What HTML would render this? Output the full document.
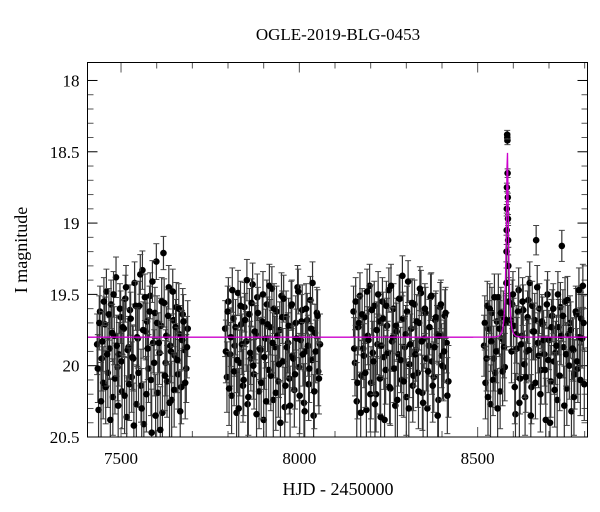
<!DOCTYPE html>
<html><head><meta charset="utf-8"><style>
html,body{margin:0;padding:0;background:#fff;}
svg{display:block;font-family:"Liberation Serif",serif;}
</style></head><body>
<svg id="chart" width="600" height="512" viewBox="0 0 600 512" xmlns="http://www.w3.org/2000/svg">
<text x="338" y="40" font-size="17" text-anchor="middle">OGLE-2019-BLG-0453</text>
<text x="338" y="495" font-size="18" text-anchor="middle">HJD - 2450000</text>
<text transform="translate(27,250) rotate(-90)" font-size="18" text-anchor="middle">I magnitude</text>
<g id="ticks"></g>
<g id="data"></g>
<path id="model" fill="none" stroke="#cc00cc" stroke-width="1.3"/>
<rect x="87.5" y="62.5" width="500" height="374.5" fill="none" stroke="#000" stroke-width="1"/>
</svg>
<script>
const xTicks=[7500,8000,8500];
const yTicks=[18,18.5,19,19.5,20,20.5];
const yTickLabels=["18","18.5","19","19.5","20","20.5"];
const t1=[7433,7437,7441,7446,7450,7455,7459,7463,7468,7472,7477,7481,7486,7490,7494,7499,7503,7508,7512,7516,7521,7525,7530,7534,7538,7543,7547,7551,7556,7560,7564,7569,7573,7577,7582,7586,7590,7595,7599,7603,7608,7612,7616,7621,7625,7629,7634,7638,7642,7647,7651,7655,7660,7664,7669,7673,7678,7683,7687];
const m1=[19.85,20.31,19.62,19.95,20.12,19.71,19.48,20.05,19.88,19.57,20.22,19.79,19.38,20.01,19.92,19.66,20.18,19.74,19.53,20.36,19.87,19.61,20.08,19.95,19.42,20.27,19.81,19.58,20.14,19.33,20.41,19.76,19.69,20.02,19.51,20.47,19.84,19.63,19.27,20.19,19.91,19.72,20.33,19.56,19.98,20.11,19.45,19.86,20.24,19.68,19.93,19.59,20.06,19.78,20.15,19.64,19.89,20.02,19.74];
const t1b=[7435,7439,7444,7448,7452,7457,7461,7466,7470,7475,7479,7483,7488,7492,7497,7501,7505,7510,7514,7519,7523,7527,7532,7536,7541,7545,7549,7554,7558,7562,7567,7571,7575,7580,7584,7588,7593,7597,7601,7606,7610,7614,7619,7623,7627,7632,7636,7640,7645,7649,7653,7658,7662,7666,7671,7675,7680,7685];
const m1b=[20.02,19.7,20.25,19.83,19.55,20.15,19.92,19.64,20.38,19.77,19.5,20.09,19.86,20.28,19.6,19.97,19.73,20.21,19.45,19.89,20.13,19.67,19.94,20.42,19.58,19.8,20.05,19.36,20.3,19.75,19.52,20.2,19.88,19.62,20.1,19.41,19.98,20.35,19.7,19.84,20.45,19.55,19.21,20.07,19.79,19.65,20.26,19.9,19.48,20.17,19.73,19.96,19.6,20.32,19.82,19.69,20.12,19.87];
const t2=[7792,7797,7801,7806,7810,7815,7819,7824,7828,7833,7837,7842,7846,7851,7855,7860,7864,7869,7873,7878,7882,7887,7891,7896,7900,7905,7909,7914,7918,7923,7927,7932,7936,7941,7945,7950,7954,7959,7963,7968,7972,7977,7981,7986,7990,7995,7999,8004,8008,8013,8017,8022,8026,8031,8035,8040,8044,8049,8053,8058];
const m2=[19.74,20.08,19.55,19.92,20.21,19.67,19.86,20.33,19.49,19.98,19.71,20.14,19.59,19.83,20.27,19.64,19.95,19.43,20.06,19.78,19.52,20.18,19.89,19.69,20.38,19.81,19.57,20.03,19.73,19.46,20.24,19.87,19.62,20.11,19.75,19.51,19.97,20.29,19.66,19.84,20.09,19.58,19.93,20.17,19.7,19.45,20.01,19.82,19.61,20.26,19.9,19.68,20.13,19.54,19.96,20.35,19.77,19.63,20.04,19.85];
const t2b=[7794,7799,7803,7808,7812,7817,7821,7826,7830,7835,7839,7844,7848,7853,7857,7862,7866,7871,7875,7880,7884,7889,7893,7898,7902,7907,7911,7916,7920,7925,7929,7934,7938,7943,7947,7952,7956,7961,7965,7970,7974,7979,7983,7988,7992,7997,8001,8006,8010,8015,8019,8024,8028,8033,8037,8042,8046,8051,8055];
const m2b=[19.9,19.62,20.16,19.8,19.47,20.04,19.73,19.96,20.3,19.58,19.85,20.1,19.68,19.4,20.22,19.91,19.56,20.0,19.76,20.34,19.63,19.88,20.12,19.5,19.94,20.25,19.71,19.44,20.07,19.84,19.6,20.19,19.79,19.99,20.4,19.66,19.53,20.14,19.87,19.72,20.28,19.57,19.95,20.06,19.81,19.48,20.21,19.69,19.92,20.32,19.6,19.86,20.02,19.74,19.42,20.18,19.9,19.65,20.09];
const t3=[8152,8156,8161,8165,8170,8174,8179,8183,8188,8192,8197,8201,8206,8210,8215,8219,8224,8228,8233,8237,8242,8246,8251,8255,8260,8264,8269,8273,8278,8282,8287,8291,8296,8300,8305,8309,8314,8318,8323,8327,8332,8336,8341,8345,8350,8354,8359,8363,8368,8372,8377,8381,8386,8390,8395,8399,8404,8408,8413,8418];
const m3=[19.62,19.98,20.25,19.73,19.51,20.07,19.88,19.66,20.31,19.79,19.44,20.12,19.91,19.58,20.2,19.85,19.69,20.36,19.55,19.94,20.03,19.72,19.47,20.16,19.83,19.6,20.28,19.76,19.92,19.53,20.1,19.67,19.87,20.22,19.41,19.99,19.74,20.14,19.57,19.89,20.05,19.7,19.49,20.19,19.81,19.63,20.3,19.86,19.52,19.97,20.08,19.68,19.78,20.24,19.59,19.93,20.01,19.65,19.84,20.11];
const t3b=[8154,8158,8163,8167,8172,8176,8181,8185,8190,8194,8199,8203,8208,8212,8217,8221,8226,8230,8235,8239,8244,8248,8253,8257,8262,8266,8271,8275,8280,8284,8289,8293,8298,8302,8307,8311,8316,8320,8325,8329,8334,8338,8343,8347,8352,8356,8361,8365,8370,8374,8379,8383,8388,8392,8397,8401,8406,8410,8415];
const m3b=[19.88,19.55,20.12,19.7,20.33,19.64,19.93,20.05,19.48,19.82,20.2,19.61,19.97,20.27,19.75,19.5,20.09,19.86,19.67,20.38,19.58,19.91,20.15,19.44,19.8,20.02,19.72,20.24,19.53,19.96,19.37,20.11,19.78,19.62,20.3,19.85,19.56,20.07,19.92,19.69,20.18,19.46,19.83,20.26,19.6,19.95,20.04,19.73,19.51,20.14,19.87,19.66,20.35,19.79,19.57,20.0,19.9,19.63,20.21];
const t4=[8518,8522,8527,8531,8536,8540,8545,8549,8554,8558,8563,8567,8572,8576,8597,8601,8606,8610,8615,8619,8624,8628,8633,8637,8642,8646,8651,8655,8660,8664,8669,8673,8678,8682,8687,8691,8696,8700,8705,8709,8714,8718,8723,8727,8732,8736,8741,8745,8750,8754,8759,8763,8768,8772,8777,8781,8786,8790,8795,8799];
const m4=[19.86,20.12,19.58,19.74,20.27,19.63,19.95,20.05,19.69,19.52,20.18,19.81,19.66,20.01,19.57,19.72,20.34,19.88,19.47,20.09,19.79,19.61,20.22,19.9,19.54,19.42,20.15,19.76,19.68,19.12,19.84,19.6,20.03,19.71,19.92,20.38,19.5,19.82,20.11,19.65,19.97,19.91,20.24,19.73,19.59,19.16,19.87,19.55,20.16,19.78,19.7,20.32,19.89,20.06,19.64,20.02,19.8,19.67,19.44,20.13];
const t4b=[8520,8525,8529,8534,8538,8543,8547,8552,8556,8561,8565,8570,8574,8578,8592,8595,8599,8604,8608,8613,8617,8622,8626,8631,8635,8640,8644,8649,8653,8658,8662,8667,8671,8676,8680,8685,8689,8694,8698,8703,8707,8712,8716,8721,8725,8730,8734,8739,8743,8748,8752,8757,8761,8766,8770,8775,8779,8784,8788,8793,8797];
const m4b=[19.7,19.95,20.22,19.6,19.83,20.1,19.52,19.9,20.3,19.74,19.63,20.04,19.87,19.7,19.68,19.9,19.5,20.15,19.78,19.62,20.26,19.85,19.55,19.99,20.08,19.66,19.89,20.35,19.58,19.76,20.12,19.45,19.93,20.2,19.69,19.82,20.03,19.57,19.96,20.4,19.73,19.6,20.17,19.86,19.5,20.07,19.79,19.65,20.28,19.92,19.54,20.0,19.75,19.88,20.22,19.62,19.97,19.47,20.1,19.81,19.7];
const tPeak=[8583,8583.5,8582.8,8584,8582,8584.5,8581.7,8585,8581.4,8585.4,8581,8586,8580.5,8587,8579.8];
const mPeak=[18.4,18.42,18.38,18.65,18.75,18.82,18.9,18.97,19.05,19.12,19.2,19.3,19.42,19.55,19.68];
const modelT0=[8583.3], modelU0=[0.31], modelTE=[6.5], modelBase=[19.8];

const X0=87.5,X1=587.5,Y0=62.5,Y1=437;
const xmin=7406,xmax=8808,ymin=17.874,ymax=20.5;
const sx=v=>X0+(v-xmin)/(xmax-xmin)*(X1-X0);
const sy=v=>Y0+(v-ymin)/(ymax-ymin)*(Y1-Y0);
const NS="http://www.w3.org/2000/svg";
function mk(tag,attrs,parent){const e=document.createElementNS(NS,tag);for(const k in attrs)e.setAttribute(k,attrs[k]);parent.appendChild(e);return e;}
const tk=document.getElementById('ticks');
for(let v=7500;v<=8800;v+=100){
  const major=(v%500===0);const L=major?10:6;const x=sx(v);
  const a=mk('line',{x1:x,x2:x,y1:Y1,y2:Y1-L,stroke:'#555','stroke-width':1},tk);
  
  
  const b=mk('line',{x1:x,x2:x,y1:Y0,y2:Y0+L,stroke:'#555','stroke-width':1},tk);
  
  
}
xTicks.forEach(v=>{
  const t=mk('text',{x:sx(v),y:Y1+27,'font-size':17,'text-anchor':'middle'},tk);t.textContent=String(v);
  
  
});
for(let i=0;i<=25;i++){
  const v=18+i*0.1;const major=(i%5===0);const L=major?10:6;const y=sy(v);
  const a=mk('line',{x1:X0,x2:X0+L,y1:y,y2:y,stroke:major?'#000':'#555','stroke-width':1},tk);
  
  
  const b=mk('line',{x1:X1,x2:X1-L,y1:y,y2:y,stroke:major?'#000':'#555','stroke-width':1},tk);
  
  
}
yTicks.forEach((v,i)=>{
  const t=mk('text',{x:X0-8,y:sy(v)+6,'font-size':17,'text-anchor':'end'},tk);t.textContent=yTickLabels[i];
  
  
});
const dg=document.getElementById('data');
function errOf(m){return m<19?0.03:Math.max(0.1,0.16+0.15*(m-19.5));}
function drawPts(ts,ms){
  for(let i=0;i<ts.length;i++){
    const x=sx(ts[i]),e=errOf(ms[i]);
    const ya=Math.max(Y0,sy(ms[i]-e)),yb=Math.min(Y1,sy(ms[i]+e));
    const g=mk('g',{},dg);
    
    
    mk('line',{x1:x,x2:x,y1:ya,y2:yb,stroke:'#333','stroke-width':1.2},g);
    if(sy(ms[i]-e)>Y0) mk('line',{x1:x-3,x2:x+3,y1:ya,y2:ya,stroke:'#444','stroke-width':1},g);
    if(sy(ms[i]+e)<Y1) mk('line',{x1:x-3,x2:x+3,y1:yb,y2:yb,stroke:'#444','stroke-width':1},g);
    const y=sy(ms[i]);
    if(y<Y1-2) mk('circle',{cx:x,cy:y,r:3.3,fill:'#000'},g);
  }
}
drawPts(t1,m1);drawPts(t1b,m1b);drawPts(t2,m2);drawPts(t2b,m2b);
drawPts(t3,m3);drawPts(t3b,m3b);drawPts(t4,m4);drawPts(t4b,m4b);drawPts(tPeak,mPeak);
let d='';
for(let px=X0;px<=X1;px+=0.5){
  const t=xmin+(px-X0)/(X1-X0)*(xmax-xmin);
  const u=Math.sqrt(modelU0[0]**2+((t-modelT0[0])/modelTE[0])**2);
  const A=(u*u+2)/(u*Math.sqrt(u*u+4));
  const m=modelBase[0]-2.5*Math.log10(A);
  d+=(d?'L':'M')+px.toFixed(1)+','+sy(m).toFixed(2);
}
document.getElementById('model').setAttribute('d',d);
</script>
</body></html>
